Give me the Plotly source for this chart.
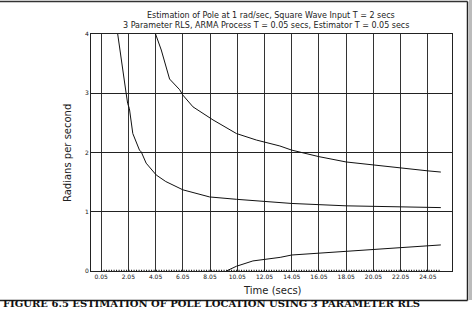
import plotly.graph_objects as go

# ---- data ----
t_upper = [4.05, 4.3, 4.47, 5.08, 5.82, 6.05, 6.8, 8.27, 9.99, 11.46, 13.18, 14.05, 16.05, 18.05, 20.05, 22.05, 24.05, 25.0]
y_upper = [4.0, 3.85, 3.73, 3.24, 3.06, 2.97, 2.77, 2.55, 2.32, 2.21, 2.11, 2.04, 1.93, 1.84, 1.79, 1.73, 1.69, 1.67]

t_mid = [1.27, 1.5, 1.89, 2.0, 2.13, 2.38, 2.87, 3.0, 3.36, 4.1, 4.8, 6.06, 8.02, 9.99, 13.18, 14.05, 18.05, 24.05, 25.0]
y_mid = [4.0, 3.6, 3.0, 2.83, 2.74, 2.32, 2.04, 2.01, 1.82, 1.62, 1.51, 1.37, 1.25, 1.21, 1.15, 1.14, 1.10, 1.07, 1.07]

t_low = [9.25, 9.99, 11.2, 12.2, 13.2, 14.05, 16.05, 18.05, 20.05, 22.05, 24.05, 25.0]
y_low = [0.0, 0.08, 0.17, 0.20, 0.23, 0.27, 0.30, 0.34, 0.37, 0.40, 0.42, 0.44]

t_zero = [0.05, 25.0]
y_zero = [0.0, 0.0]

x_ticks = [0.05 + 2 * i for i in range(13)]
x_tick_labels = ["%.2f" % v for v in x_ticks]
y_ticks = [0, 1, 2, 3, 4]
y_tick_labels = ["0", "1", "2", "3", "4"]

title1 = "Estimation of Pole at 1 rad/sec, Square Wave Input T = 2 secs"
title2 = "3 Parameter RLS, ARMA Process T = 0.05 secs, Estimator T = 0.05 secs"
caption = "FIGURE 6.5 ESTIMATION OF POLE LOCATION USING 3 PARAMETER RLS"

# ---- figure ----
W, H = 472, 310
L, R, T, B = 91, 452, 34, 271  # plot area in pixels

def px(x):
    return (x - L) / (R - L)

def py(y):
    return (B - y) / (B - T)

fig = go.Figure()
line = dict(color="#111111", width=1)
fig.add_trace(go.Scatter(x=t_zero, y=y_zero, mode="lines",
                         line=dict(color="#111111", width=2.5, dash="1px,1.5px")))
fig.add_trace(go.Scatter(x=t_upper, y=y_upper, mode="lines", line=line))
fig.add_trace(go.Scatter(x=t_mid, y=y_mid, mode="lines", line=line))
fig.add_trace(go.Scatter(x=t_low, y=y_low, mode="lines", line=line))

fig.update_layout(
    width=W, height=H,
    margin=dict(l=L, r=W - R, t=T, b=H - B),
    paper_bgcolor="white", plot_bgcolor="white",
    showlegend=False,
    font=dict(family="DejaVu Sans", color="#111111"),
)
fig.update_xaxes(range=[-0.69, 25.82], tickvals=x_ticks, ticktext=x_tick_labels,
                 showgrid=True, gridcolor="#333333", gridwidth=1,
                 showline=True, linecolor="#222222", linewidth=1, mirror=True,
                 zeroline=False, ticks="", tickfont=dict(size=6, family="DejaVu Sans"))
fig.update_yaxes(range=[0, 4], tickvals=y_ticks, ticktext=y_tick_labels,
                 showgrid=True, gridcolor="#222222", gridwidth=1,
                 showline=True, linecolor="#222222", linewidth=1, mirror=True,
                 zeroline=False, ticks="", tickfont=dict(size=6, family="DejaVu Sans"))

ann = []
ann.append(dict(text=title1, x=px(271), y=py(15), xref="paper", yref="paper",
                showarrow=False, xanchor="center", yanchor="middle",
                font=dict(size=8, family="DejaVu Sans", color="#222222")))
ann.append(dict(text=title2, x=px(266), y=py(25.5), xref="paper", yref="paper",
                showarrow=False, xanchor="center", yanchor="middle",
                font=dict(size=8, family="DejaVu Sans", color="#222222")))
ann.append(dict(text="Time (secs)", x=px(272), y=py(290), xref="paper", yref="paper",
                showarrow=False, xanchor="center", yanchor="middle",
                font=dict(size=10, family="DejaVu Sans", color="#222222")))
ann.append(dict(text="Radians per second", x=px(67), y=py(153), xref="paper", yref="paper",
                showarrow=False, xanchor="center", yanchor="middle", textangle=-90,
                font=dict(size=10, family="DejaVu Sans", color="#222222")))
ann.append(dict(text="<b>" + caption + "</b>", x=px(1), y=py(311), xref="paper", yref="paper",
                showarrow=False, xanchor="left", yanchor="bottom",
                font=dict(size=10, family="DejaVu Serif")))
fig.update_layout(annotations=ann)

# outer frame of the scanned page
fig.add_shape(type="line", xref="paper", yref="paper", x0=px(0), x1=px(467.5), y0=py(1.5), y1=py(1.5),
              line=dict(color="#333333", width=1.5))
fig.add_shape(type="line", xref="paper", yref="paper", x0=px(467.5), x1=px(467.5), y0=py(1.5), y1=py(300.5),
              line=dict(color="#222222", width=1.5))
fig.add_shape(type="line", xref="paper", yref="paper", x0=px(0), x1=px(467.5), y0=py(300.5), y1=py(300.5),
              line=dict(color="#222222", width=1.5))
fig.add_shape(type="rect", xref="paper", yref="paper", x0=px(469), x1=px(473), y0=py(0), y1=py(300),
              line=dict(width=0), fillcolor="#bbbbbb")

fig.write_html("out.html")
